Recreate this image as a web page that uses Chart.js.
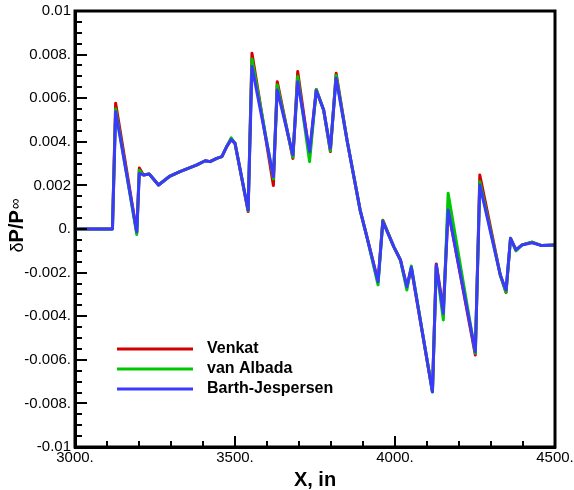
<!DOCTYPE html>
<html><head><meta charset="utf-8">
<script src="https://cdn.jsdelivr.net/npm/chart.js@4/dist/chart.umd.min.js"></script>
<style>html,body{margin:0;padding:0;background:#fff;}#wrap{width:574px;height:490px;}</style>
</head><body><div id="wrap"><canvas id="c" width="574" height="490"></canvas></div>
<script>
const xValues = [3000,3117,3127,3193,3201,3214,3232,3261,3297,3328,
  3381,3407,3422,3443,3459,3474,3488,3500,3541,3553,
  3620,3632,3681,3696,3733,3754,3777,3798,3816,3850,
  3891,3912,3947,3962,3996,4017,4037,4051,4117,4129,
  4151,4166,4251,4265,4329,4347,4361,4378,4397,4428,
  4459,4500];
const venkat = [0,0,0.00577,-0.00015,0.0028,0.00248,0.00252,0.00202,0.00243,0.00263,
  0.00294,0.00313,0.00309,0.00324,0.00332,0.00378,0.0041,0.00393,0.0008,0.00806,
  0.002,0.00676,0.00324,0.00722,0.0034,0.0064,0.00546,0.00355,0.00714,0.00408,
  0.00087,-0.00035,-0.0024,0.0004,-0.00081,-0.00142,-0.00265,-0.0018,-0.00746,-0.0016,
  -0.0037,0.0009,-0.00578,0.00248,-0.00211,-0.00292,-0.00043,-0.00096,-0.00073,-0.0006,
  -0.00076,-0.00073];
const vanAlbada = [0,0,0.0055,-0.00025,0.0027,0.00248,0.00252,0.00202,0.00243,0.00263,
  0.00294,0.00313,0.00309,0.00324,0.00332,0.00378,0.00418,0.00393,0.00085,0.0078,
  0.0023,0.0066,0.0033,0.007,0.00309,0.0064,0.00546,0.0036,0.00705,0.00408,
  0.00087,-0.00035,-0.00256,0.00038,-0.00081,-0.00142,-0.0028,-0.0017,-0.00748,-0.0017,
  -0.00417,0.00164,-0.0057,0.00217,-0.00211,-0.0029,-0.00043,-0.001,-0.00073,-0.0006,
  -0.00076,-0.00073];
const barthJespersen = [0,0,0.00538,-0.00013,0.00255,0.00248,0.00252,0.00202,0.00243,0.00263,
  0.00294,0.00313,0.00309,0.00324,0.00332,0.00378,0.00411,0.00393,0.00087,0.00745,
  0.0024,0.00638,0.0034,0.00676,0.00355,0.00634,0.00546,0.0037,0.00691,0.00408,
  0.00087,-0.00035,-0.00242,0.00034,-0.00081,-0.00142,-0.00265,-0.00176,-0.00746,-0.00165,
  -0.00387,0.00087,-0.00563,0.00202,-0.00211,-0.0028,-0.00043,-0.00096,-0.00073,-0.00063,
  -0.00076,-0.00073];
const seriesNames = ['Venkat','van Albada','Barth-Jespersen'];
const xTickValues = [3000,3500,4000,4500];
const xTickLabels = ['3000.','3500.','4000.','4500.'];
const yTickValues = [0.01,0.008,0.006,0.004,0.002,0,-0.002,-0.004,-0.006,-0.008,-0.01];
const yTickLabels = ['0.01','0.008.','0.006.','0.004.','0.002','0.','-0.002.','-0.004.','-0.006.','-0.008.','-0.01'];
const xTitle = 'X, in';
const yTitleParts = ['\u03b4','P/P','\u221e'];

const FONT = "'Liberation Sans', Arial, sans-serif";
const colors = ['#d40000','#00c800','#3a3aff'];
const seriesData = [venkat, vanAlbada, barthJespersen];

function pts(arr){ return xValues.map((x,i)=>({x:x, y:arr[i]})); }

function nearestLabel(value, vals, labels){
  let best=0, bd=Infinity;
  vals.forEach((v,i)=>{const d=Math.abs(v-value); if(d<bd){bd=d;best=i;}});
  return labels[best];
}

const framePlugin = {
  id:'frame',
  afterDraw(chart){
    const ctx = chart.ctx, a = chart.chartArea;
    const xs = chart.scales.x, ys = chart.scales.y;
    ctx.save();
    ctx.strokeStyle = '#000';
    ctx.lineWidth = 2;
    const xStep = (xTickValues[1]-xTickValues[0])/5;
    for (let v = xTickValues[0]; v <= xTickValues[xTickValues.length-1] + 1e-9; v += xStep){
      const isMajor = xTickValues.some(t=>Math.abs(t-v)<1e-6);
      const p = Math.round(xs.getPixelForValue(v));
      ctx.beginPath(); ctx.moveTo(p, a.bottom); ctx.lineTo(p, a.bottom - (isMajor?11:6)); ctx.stroke();
    }
    const yStep = Math.abs(yTickValues[0]-yTickValues[1])/4;
    const yMin = Math.min(...yTickValues), yMax = Math.max(...yTickValues);
    for (let k = 0; yMin + k*yStep <= yMax + 1e-12; k++){
      const v = yMin + k*yStep;
      const isMajor = k % 4 === 0;
      const p = Math.round(ys.getPixelForValue(v));
      ctx.beginPath(); ctx.moveTo(a.left, p); ctx.lineTo(a.left + (isMajor?12:7), p); ctx.stroke();
    }
    ctx.lineWidth = 3;
    ctx.strokeRect(a.left, a.top, a.right - a.left, a.bottom - a.top);
    ctx.translate(16, 226);
    ctx.rotate(-Math.PI/2);
    ctx.fillStyle = '#000';
    ctx.textBaseline = 'alphabetic';
    const fonts = ['18px '+FONT, 'bold 20px '+FONT, '15px '+FONT];
    const widths = yTitleParts.map((t,i)=>{ctx.font=fonts[i]; return ctx.measureText(t).width;});
    let x0 = -widths.reduce((s,w)=>s+w,0)/2;
    const offs = [7, 7, 4];
    yTitleParts.forEach((t,i)=>{ctx.font=fonts[i]; ctx.fillText(t, x0, offs[i]); x0 += widths[i] + (i===1?1:0);});
    ctx.restore();
    ctx.save();
    chart.data.datasets.forEach((ds,i)=>{
      const y = 349 + i*20;
      ctx.strokeStyle = ds.borderColor; ctx.lineWidth = 3;
      ctx.beginPath(); ctx.moveTo(117, y); ctx.lineTo(193, y); ctx.stroke();
      ctx.fillStyle = '#000'; ctx.font = 'bold 16px '+FONT; ctx.textBaseline = 'middle';
      ctx.fillText(ds.label, 207, y);
    });
    ctx.restore();
  }
};

new Chart(document.getElementById('c'), {
  type:'line',
  data:{
    datasets: seriesNames.map((n,i)=>({
      label:n, data:pts(seriesData[i]), borderColor:colors[i], backgroundColor:colors[i],
      borderWidth:3, pointRadius:0, tension:0, fill:false, order: 2-i,
      borderJoinStyle:'round', borderCapStyle:'round'
    }))
  },
  options:{
    responsive:false, animation:false, devicePixelRatio:1,
    layout:{padding:{top:11, right:19, left:0, bottom:0}},
    plugins:{legend:{display:false}, tooltip:{enabled:false}},
    scales:{
      x:{type:'linear', min:3000, max:4500,
        ticks:{stepSize:500, autoSkip:false, maxRotation:0, padding:2, color:'#000',
          font:{family:FONT, size:15}, callback:(v)=>nearestLabel(v, xTickValues, xTickLabels)},
        grid:{display:true, drawOnChartArea:false, drawTicks:false},
        border:{display:true, color:'#000', width:3},
        title:{display:true, text:xTitle, color:'#000', font:{family:FONT, size:20, weight:'bold', lineHeight:1}, padding:{top:0,bottom:0}},
        afterFit:(s)=>{s.height=43; s.paddingLeft=0; s.paddingRight=0;}
      },
      y:{type:'linear', min:-0.01, max:0.01,
        ticks:{stepSize:0.002, autoSkip:false, padding:4, color:'#000',
          font:{family:FONT, size:15}, callback:(v)=>nearestLabel(v, yTickValues, yTickLabels)},
        grid:{display:true, drawOnChartArea:false, drawTicks:false},
        border:{display:true, color:'#000', width:3},
        afterFit:(s)=>{s.width=75; s.paddingTop=0; s.paddingBottom=0;}
      }
    }
  },
  plugins:[framePlugin]
});
</script></body></html>
